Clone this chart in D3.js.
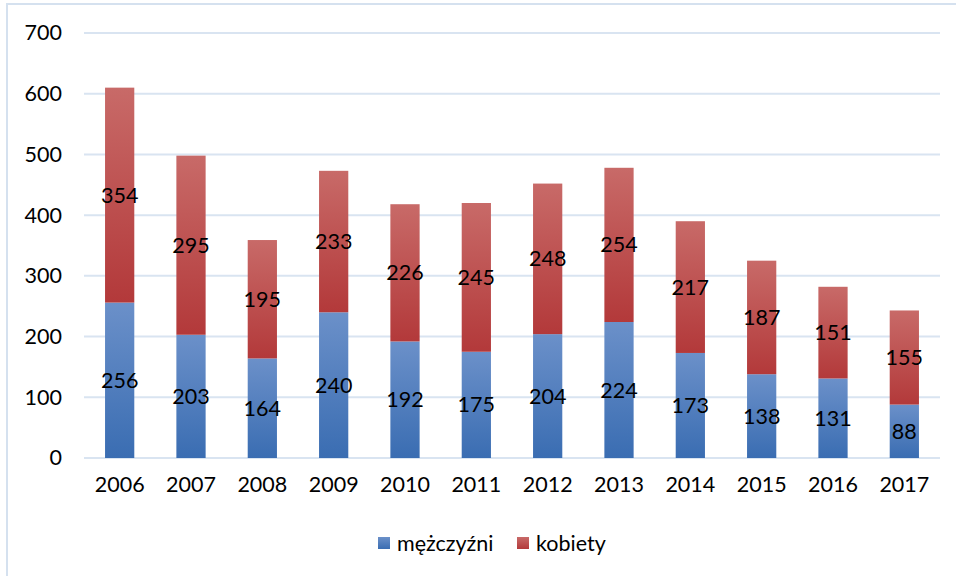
<!DOCTYPE html>
<html><head><meta charset="utf-8">
<script src="https://cdn.jsdelivr.net/npm/d3@7"></script>
<style>body{margin:0;background:#fff}</style>
</head><body>
<svg id="c" width="956" height="576"></svg>
<script>
const years = ["2006","2007","2008","2009","2010","2011","2012","2013","2014","2015","2016","2017"];
const men = [256,203,164,240,192,175,204,224,173,138,131,88];
const women = [354,295,195,233,226,245,248,254,217,187,151,155];
const seriesNames = ["mężczyźni","kobiety"];
const yTicks = [0,100,200,300,400,500,600,700];

const svg = d3.select("#c");
const font = "Lato, 'Open Sans', sans-serif";
const fs = 21.5;
const defs = svg.append("defs");
const grads = [["gBlue","#6b90c9","#3a6db2"],["gRed","#c86a68","#b3393a"]];
grads.forEach(([id,a,b])=>{
  const g = defs.append("linearGradient").attr("id",id).attr("x1",0).attr("y1",0).attr("x2",0).attr("y2",1);
  g.append("stop").attr("offset","0%").attr("stop-color",a);
  g.append("stop").attr("offset","100%").attr("stop-color",b);
});

// outer border
svg.append("path").attr("d","M7,576 L7,4 L956,4").attr("fill","none").attr("stroke","#d5e1ef").attr("stroke-width",2);

const x = d3.scaleBand().domain(years).range([84,940]).paddingInner(0.59).paddingOuter(0.295);
const y = d3.scaleLinear().domain([0,700]).range([458,33]);

// grid
svg.append("g").selectAll("line").data(yTicks).join("line")
  .attr("x1",84).attr("x2",940).attr("y1",d=>y(d)).attr("y2",d=>y(d))
  .attr("stroke","#d9e4f1").attr("stroke-width",2);

// y axis labels
const ya = svg.append("g").attr("transform","translate(62,0)")
  .call(d3.axisLeft(y).tickValues(yTicks).tickSize(0).tickPadding(0).tickFormat(d3.format("d")));
ya.select(".domain").remove();
ya.selectAll("text").attr("font-family",font).attr("font-size",fs).attr("fill","#000");

// x axis labels
const xa = svg.append("g").attr("transform","translate(0,475)")
  .call(d3.axisBottom(x).tickSize(0).tickPadding(2));
xa.select(".domain").remove();
xa.selectAll("text").attr("font-family",font).attr("font-size",fs).attr("fill","#000");

const data = years.map((yr,i)=>({yr, m:men[i], w:women[i]}));
const stack = d3.stack().keys(["m","w"])(data);
const fills = ["url(#gBlue)","url(#gRed)"];
stack.forEach((s,si)=>{
  const g = svg.append("g");
  g.selectAll("rect").data(s).join("rect")
    .attr("x",d=>x(d.data.yr)).attr("width",x.bandwidth())
    .attr("y",d=>y(d[1])).attr("height",d=>y(d[0])-y(d[1]))
    .attr("fill",fills[si]);
  g.selectAll("text").data(s).join("text")
    .attr("x",d=>x(d.data.yr)+x.bandwidth()/2)
    .attr("y",d=>y((d[0]+d[1])/2))
    .attr("dy","0.35em").attr("text-anchor","middle")
    .attr("font-family",font).attr("font-size",fs).attr("fill","#000")
    .text(d=>d[1]-d[0]);
});

// legend
const leg = svg.append("g");
const legX = [378,517];
seriesNames.forEach((n,i)=>{
  leg.append("rect").attr("x",legX[i]).attr("y",537).attr("width",12).attr("height",12).attr("fill",fills[i]);
  leg.append("text").attr("x",legX[i]+19).attr("y",543).attr("dy","0.35em")
    .attr("font-family",font).attr("font-size",fs).attr("fill","#000").text(n);
});
</script>
</body></html>
